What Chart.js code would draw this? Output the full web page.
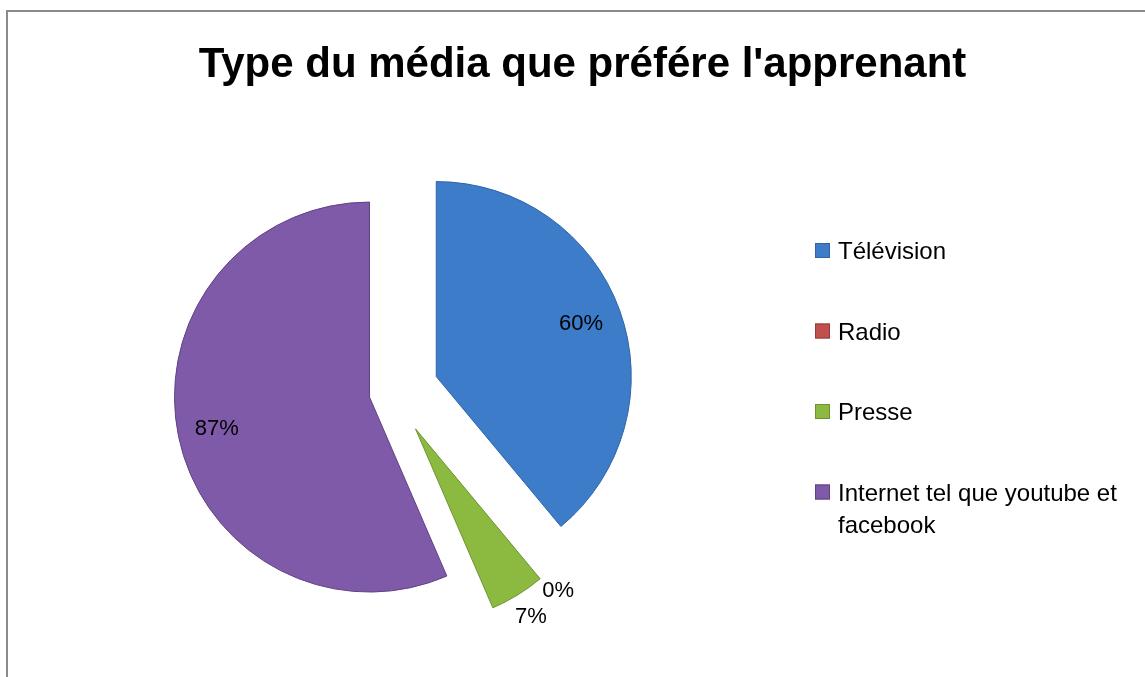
<!DOCTYPE html>
<html>
<head>
<meta charset="utf-8">
<script src="https://cdn.jsdelivr.net/npm/chart.js@4.4.0/dist/chart.umd.min.js"></script>
<style>
  html, body { margin: 0; padding: 0; background: #fff; overflow: hidden; }
  #frame { position: absolute; left: 6px; top: 10px; width: 1300px; height: 800px;
           border-left: 2px solid #8a8a8a; border-top: 2px solid #8a8a8a; }
  #wrap { position: absolute; left: 0; top: 0; width: 1145px; height: 677px; }
</style>
</head>
<body>
<div id="frame"></div>
<div id="wrap"><canvas id="chart" width="1145" height="677"></canvas></div>
<script>
const title = "Type du média que préfére l'apprenant";
const categories = ['Télévision', 'Radio', 'Presse', 'Internet tel que youtube et facebook'];
const values = [60, 0, 7, 87];
const valueLabels = values.map(v => v + '%');
const colors = ['#3d7cc9', '#c0504d', '#8cba41', '#7f5aa8'];
const edges = ['#2f64a6', '#983c3a', '#6c9330', '#5f4284'];

const FONT = '"Liberation Sans", Arial, sans-serif';

// exploded pie: how far each slice is pulled out (px)
const explode = [46, 38, 43, 24];
// how far out each % label sits, as a share of the radius
const labelRadius = [0.79, 1.13, 1.13, 0.8];

function wrapText(ctx, text, maxW) {
    const words = text.split(' ');
    const lines = [];
    let line = '';
    words.forEach(w => {
        const test = line ? line + ' ' + w : w;
        if (ctx.measureText(test).width > maxW && line) {
            lines.push(line);
            line = w;
        } else {
            line = test;
        }
    });
    lines.push(line);
    return lines;
}

// shift each arc outwards along its middle angle, keeping the radius unchanged
const explodeSlices = {
    id: 'explodeSlices',
    afterUpdate(chart) {
        chart.getDatasetMeta(0).data.forEach((arc, i) => {
            arc.draw = function(ctx, area) {
                const mid = (this.startAngle + this.endAngle) / 2;
                ctx.save();
                ctx.translate(Math.cos(mid) * explode[i], Math.sin(mid) * explode[i]);
                Chart.ArcElement.prototype.draw.call(this, ctx, area);
                ctx.restore();
            };
        });
    }
};

// legend drawn in its own layout box on the right
const sideLegend = {
    id: 'sideLegend',
    beforeInit(chart) {
        const box = {
            position: 'right',
            weight: 0,
            fullSize: false,
            options: {},
            left: 0, top: 0, right: 0, bottom: 0, width: 0, height: 0,
            isHorizontal() { return false; },
            update(maxWidth, maxHeight) {
                this.width = 379;
                this.height = maxHeight;
            },
            draw() {
                const ctx = chart.ctx;
                const ds = chart.data.datasets[0];
                ctx.save();
                ctx.font = '24px ' + FONT;
                ctx.textBaseline = 'alphabetic';
                ctx.textAlign = 'left';
                chart.data.labels.forEach((lab, i) => {
                    const top = 243 + i * 80.5;
                    const x = this.left + 49;
                    ctx.fillStyle = ds.backgroundColor[i];
                    ctx.fillRect(x, top, 15, 15);
                    ctx.strokeStyle = edges[i];
                    ctx.lineWidth = 1;
                    ctx.strokeRect(x + 0.5, top + 0.5, 14, 14);
                    ctx.fillStyle = '#000';
                    wrapText(ctx, lab, 300).forEach((ln, k) => {
                        ctx.fillText(ln, x + 23, top + 16 + k * 32);
                    });
                });
                ctx.restore();
            }
        };
        Chart.layouts.addBox(chart, box);
    }
};

const sliceLabels = {
    id: 'sliceLabels',
    afterDatasetsDraw(chart) {
        const ctx = chart.ctx;
        const meta = chart.getDatasetMeta(0);
        ctx.save();
        ctx.font = '22px ' + FONT;
        ctx.textAlign = 'center';
        ctx.textBaseline = 'middle';
        ctx.fillStyle = '#000';
        meta.data.forEach((arc, i) => {
            const p = arc.getProps(['x', 'y', 'startAngle', 'endAngle', 'outerRadius'], true);
            const mid = (p.startAngle + p.endAngle) / 2;
            const d = explode[i] + labelRadius[i] * p.outerRadius;
            ctx.fillText(valueLabels[i], p.x + Math.cos(mid) * d, p.y + Math.sin(mid) * d);
        });
        ctx.restore();
    }
};

const chart = document.querySelector('#chart').getContext('2d');

new Chart(chart, {
    type: 'pie',
    data: {
        labels: categories,
        datasets: [
            {
                data: values,
                backgroundColor: colors,
                borderColor: edges,
                borderWidth: 1,
                hoverOffset: 0
            }
        ]
    },
    options: {
        responsive: false,
        animation: false,
        radius: 195,
        layout: { padding: { left: 20, right: 0, top: 0, bottom: 0 } },
        plugins: {
            legend: { display: false },
            tooltip: { enabled: false },
            title: {
                display: true,
                text: title,
                color: '#000',
                font: { family: FONT, size: 42, weight: 'bold' },
                padding: { top: 40, bottom: 17 }
            }
        }
    },
    plugins: [explodeSlices, sideLegend, sliceLabels]
});
</script>
</body>
</html>
